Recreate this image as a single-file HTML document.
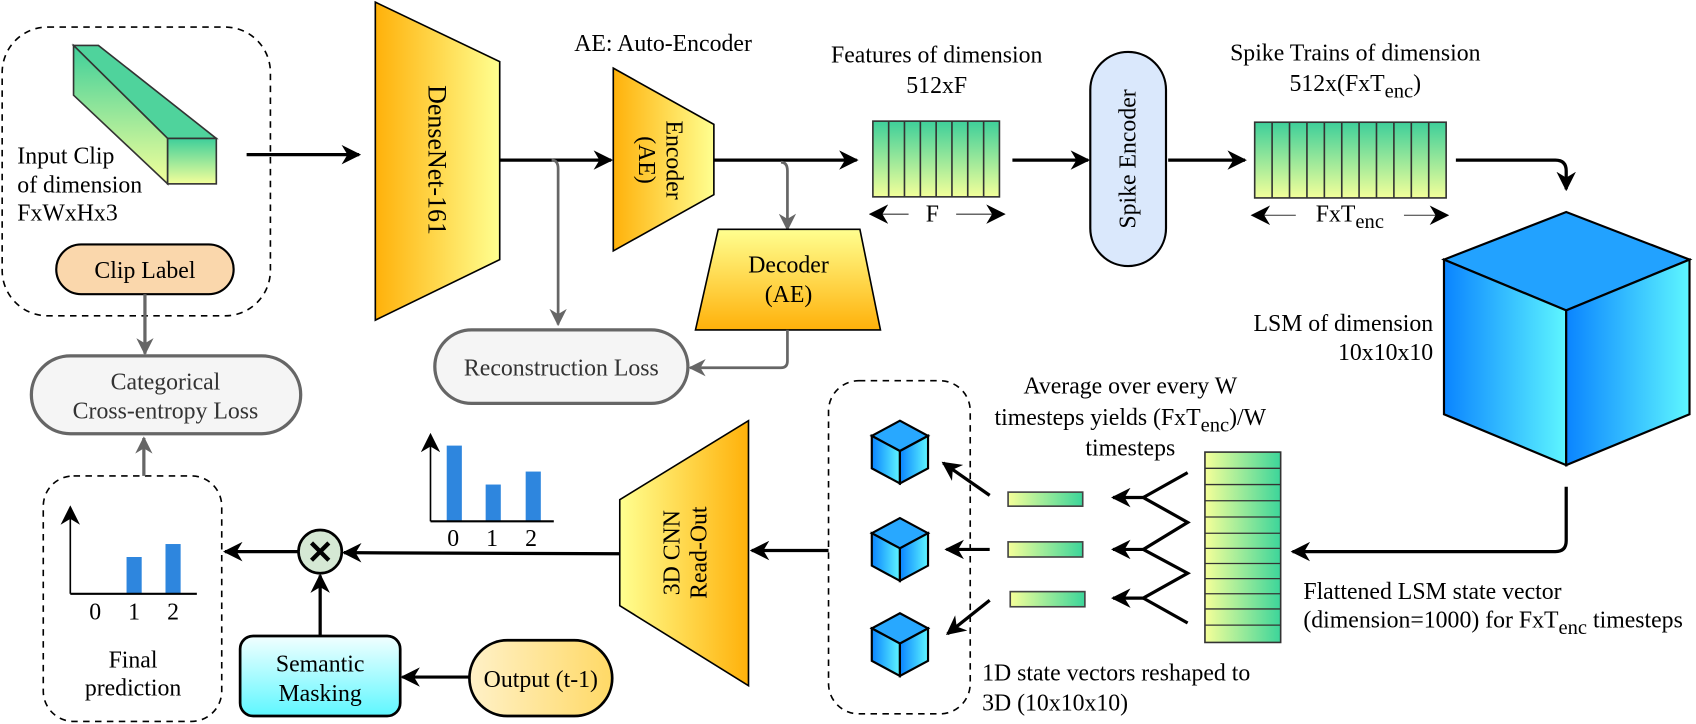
<!DOCTYPE html>
<html><head><meta charset="utf-8"><style>
html,body{margin:0;padding:0;background:#fff}
svg{display:block}
text{font-family:"Liberation Serif",serif;font-size:22px;fill:#000}
tspan.s{font-size:19px}
</style></head><body>
<svg width="1696" height="724" viewBox="0 0 1568 669.4" preserveAspectRatio="none" xmlns="http://www.w3.org/2000/svg">
<defs>
<marker id="a" viewBox="0 0 10 10" refX="9" refY="5" markerWidth="18" markerHeight="18" orient="auto" markerUnits="userSpaceOnUse"><path d="M0,0 L10,5 L0,10 L3,5 z" fill="#000"/></marker>
<marker id="g" viewBox="0 0 10 10" refX="9" refY="5" markerWidth="16" markerHeight="16" orient="auto" markerUnits="userSpaceOnUse"><path d="M0,0 L10,5 L0,10 L3,5 z" fill="#666"/></marker>
<linearGradient id="org" x1="0" x2="1" y1="0" y2="0"><stop offset="0" stop-color="#ffb10a"/><stop offset="1" stop-color="#ffff90"/></linearGradient>
<linearGradient id="orgR" x1="1" x2="0" y1="0" y2="0"><stop offset="0" stop-color="#ffb10a"/><stop offset="1" stop-color="#ffff90"/></linearGradient>
<linearGradient id="orgV" x1="0" x2="0" y1="0" y2="1"><stop offset="0" stop-color="#ffff90"/><stop offset="1" stop-color="#ffb10a"/></linearGradient>
<linearGradient id="gy" x1="0" x2="0" y1="0" y2="1"><stop offset="0" stop-color="#3ecf9a"/><stop offset="1" stop-color="#f3ff9a"/></linearGradient>
<linearGradient id="yg" x1="0" x2="1" y1="0" y2="0"><stop offset="0" stop-color="#f5ff99"/><stop offset="1" stop-color="#3cd59a"/></linearGradient>
<linearGradient id="blue" x1="0" x2="1" y1="0" y2="0"><stop offset="0" stop-color="#0a84ff"/><stop offset="1" stop-color="#5ef6ff"/></linearGradient>
<linearGradient id="cyan" x1="0" x2="0" y1="0" y2="1"><stop offset="0" stop-color="#f2ffff"/><stop offset="1" stop-color="#5ef7ff"/></linearGradient>
<linearGradient id="outp" x1="0" x2="1" y1="0" y2="0"><stop offset="0" stop-color="#fff1c8"/><stop offset="1" stop-color="#ffd966"/></linearGradient>
<g id="cube">
<path d="M0,-28 L26,-14 L0,0 L-26,-14 Z" fill="#28a8ff" stroke="#000" stroke-width="2"/>
<path d="M-26,-14 L0,0 L0,30 L-26,16 Z" fill="url(#blue)" stroke="#000" stroke-width="2"/>
<path d="M0,0 L26,-14 L26,16 L0,30 Z" fill="url(#blue)" stroke="#000" stroke-width="2"/>
</g>
</defs>

<rect x="2" y="25" width="248" height="267" rx="42" fill="none" stroke="#000" stroke-width="1.5" stroke-dasharray="6,5"/>
<path d="M68,42 L91,42 L200,128 L155,128 Z" fill="#4fd39c" stroke="#333" stroke-width="1.5"/>
<path d="M68,42 L155,128 L155,170 L68,88 Z" fill="url(#gy)" stroke="#333" stroke-width="1.5"/>
<rect x="155" y="128" width="45" height="42" fill="url(#gy)" stroke="#333" stroke-width="1.5"/>
<text x="16" y="151">Input Clip</text>
<text x="16" y="178">of dimension</text>
<text x="16" y="204">FxWxHx3</text>
<rect x="52" y="226" width="164" height="46" rx="23" fill="#fad7ac" stroke="#000" stroke-width="2"/>
<text x="134" y="257" text-anchor="middle">Clip Label</text>
<line x1="134" y1="272" x2="134" y2="327" stroke="#666" stroke-width="3" marker-end="url(#g)"/>
<rect x="29" y="329" width="249" height="72" rx="36" fill="#f5f5f5" stroke="#666" stroke-width="3"/>
<text x="153" y="360" text-anchor="middle" style="fill:#333">Categorical</text>
<text x="153" y="387" text-anchor="middle" style="fill:#333">Cross-entropy Loss</text>

<line x1="228" y1="143" x2="332" y2="143" stroke="#000" stroke-width="3" marker-end="url(#a)"/>

<path d="M347,2 L462,57 L462,240 L347,296 Z" fill="url(#org)" stroke="#000" stroke-width="1.5"/>
<text transform="translate(396,148) rotate(90)" text-anchor="middle" style="font-size:24px">DenseNet-161</text>
<line x1="462" y1="148" x2="565" y2="148" stroke="#000" stroke-width="3" marker-end="url(#a)"/>
<path d="M510,148 Q516,148 516,156 L516,300" fill="none" stroke="#666" stroke-width="2.5" marker-end="url(#g)"/>

<text x="613" y="47" text-anchor="middle">AE: Auto-Encoder</text>
<path d="M567,63 L660,115 L660,180 L567,232 Z" fill="url(#org)" stroke="#000" stroke-width="1.5"/>
<text transform="translate(616,148) rotate(90)" text-anchor="middle">Encoder</text>
<text transform="translate(591,148) rotate(90)" text-anchor="middle">(AE)</text>
<line x1="660" y1="148" x2="792" y2="148" stroke="#000" stroke-width="3" marker-end="url(#a)"/>
<path d="M722,150 Q728,150 728,158 L728,212" fill="none" stroke="#666" stroke-width="2.5" marker-end="url(#g)"/>

<path d="M664,212 L795,212 L814,305 L643,305 Z" fill="url(#orgV)" stroke="#000" stroke-width="1.5"/>
<text x="729" y="252" text-anchor="middle">Decoder</text>
<text x="729" y="279" text-anchor="middle">(AE)</text>

<rect x="402" y="305" width="234" height="68" rx="34" fill="#f5f5f5" stroke="#666" stroke-width="3"/>
<text x="519" y="347" text-anchor="middle" style="fill:#333">Reconstruction Loss</text>
<path d="M728,305 L728,334 Q728,340 722,340 L638,340" fill="none" stroke="#666" stroke-width="2.5" marker-end="url(#g)"/>

<text x="866" y="58" text-anchor="middle">Features of dimension</text>
<text x="866" y="86" text-anchor="middle">512xF</text>
<rect x="807" y="112" width="117" height="70" fill="url(#gy)" stroke="#333" stroke-width="1.5"/>
<g stroke="#333" stroke-width="1.5">
<line x1="821.6" y1="112" x2="821.6" y2="182"/><line x1="836.2" y1="112" x2="836.2" y2="182"/><line x1="850.9" y1="112" x2="850.9" y2="182"/><line x1="865.5" y1="112" x2="865.5" y2="182"/><line x1="880.1" y1="112" x2="880.1" y2="182"/><line x1="894.7" y1="112" x2="894.7" y2="182"/><line x1="909.4" y1="112" x2="909.4" y2="182"/>
</g>
<line x1="840" y1="198" x2="805" y2="198" stroke="#333" stroke-width="1" marker-end="url(#a)" />
<line x1="884" y1="198" x2="928" y2="198" stroke="#333" stroke-width="1" marker-end="url(#a)"/>
<text x="862" y="205" text-anchor="middle">F</text>
<line x1="936" y1="148" x2="1006" y2="148" stroke="#000" stroke-width="3" marker-end="url(#a)"/>

<rect x="1008" y="48" width="70" height="198" rx="35" fill="#dae8fc" stroke="#000" stroke-width="2"/>
<text transform="translate(1050,147) rotate(-90)" text-anchor="middle">Spike Encoder</text>
<line x1="1080" y1="148" x2="1151" y2="148" stroke="#000" stroke-width="3" marker-end="url(#a)"/>

<text x="1253" y="56" text-anchor="middle">Spike Trains of dimension</text>
<text x="1253" y="84" text-anchor="middle">512x(FxT<tspan class="s" dy="6">enc</tspan><tspan dy="-6">)</tspan></text>
<rect x="1160" y="113" width="177" height="70" fill="url(#gy)" stroke="#333" stroke-width="1.5"/>
<g stroke="#333" stroke-width="1.5">
<line x1="1176.1" y1="113" x2="1176.1" y2="183"/><line x1="1192.2" y1="113" x2="1192.2" y2="183"/><line x1="1208.3" y1="113" x2="1208.3" y2="183"/><line x1="1224.4" y1="113" x2="1224.4" y2="183"/><line x1="1240.5" y1="113" x2="1240.5" y2="183"/><line x1="1256.5" y1="113" x2="1256.5" y2="183"/><line x1="1272.6" y1="113" x2="1272.6" y2="183"/><line x1="1288.7" y1="113" x2="1288.7" y2="183"/><line x1="1304.8" y1="113" x2="1304.8" y2="183"/><line x1="1320.9" y1="113" x2="1320.9" y2="183"/>
</g>
<line x1="1198" y1="199" x2="1158" y2="199" stroke="#333" stroke-width="1" marker-end="url(#a)"/>
<line x1="1298" y1="199" x2="1338" y2="199" stroke="#333" stroke-width="1" marker-end="url(#a)"/>
<text x="1248" y="205" text-anchor="middle">FxT<tspan class="s" dy="6">enc</tspan></text>
<path d="M1346,148 L1438,148 Q1448,148 1448,158 L1448,175" fill="none" stroke="#000" stroke-width="3" marker-end="url(#a)"/>

<path d="M1335,240 L1448,196 L1562,240 L1448,287 Z" fill="#22a2ff" stroke="#000" stroke-width="2"/>
<path d="M1335,240 L1448,287 L1448,430 L1335,383 Z" fill="url(#blue)" stroke="#000" stroke-width="2"/>
<path d="M1448,287 L1562,240 L1562,383 L1448,430 Z" fill="url(#blue)" stroke="#000" stroke-width="2"/>
<text x="1325" y="306" text-anchor="end">LSM of dimension</text>
<text x="1325" y="333" text-anchor="end">10x10x10</text>
<path d="M1448,450 L1448,500 Q1448,510 1438,510 L1195,510" fill="none" stroke="#000" stroke-width="3" marker-end="url(#a)"/>

<text x="1205" y="554">Flattened LSM state vector</text>
<text x="1205" y="580">(dimension=1000) for FxT<tspan class="s" dy="6">enc</tspan><tspan dy="-6"> timesteps</tspan></text>

<rect x="1114" y="418" width="70" height="176" fill="url(#yg)" stroke="#333" stroke-width="1.5"/>
<g stroke="#333" stroke-width="1.2">
<line x1="1114" y1="433" x2="1184" y2="433"/><line x1="1114" y1="448" x2="1184" y2="448"/><line x1="1114" y1="463" x2="1184" y2="463"/><line x1="1114" y1="478" x2="1184" y2="478"/><line x1="1114" y1="493" x2="1184" y2="493"/><line x1="1114" y1="507" x2="1184" y2="507"/><line x1="1114" y1="521" x2="1184" y2="521"/><line x1="1114" y1="535" x2="1184" y2="535"/><line x1="1114" y1="549" x2="1184" y2="549"/><line x1="1114" y1="563" x2="1184" y2="563"/><line x1="1114" y1="578" x2="1184" y2="578"/>
</g>
<path d="M1098,437 L1057,460 L1098,483 L1057,508 L1098,530 L1057,553 L1098,576" fill="none" stroke="#000" stroke-width="3"/>
<line x1="1057" y1="460" x2="1029" y2="460" stroke="#000" stroke-width="3" marker-end="url(#a)"/>
<line x1="1057" y1="508" x2="1029" y2="508" stroke="#000" stroke-width="3" marker-end="url(#a)"/>
<line x1="1057" y1="553" x2="1029" y2="553" stroke="#000" stroke-width="3" marker-end="url(#a)"/>
<rect x="932" y="455" width="69" height="13" fill="url(#yg)" stroke="#444" stroke-width="1.5"/>
<rect x="932" y="501" width="69" height="14" fill="url(#yg)" stroke="#444" stroke-width="1.5"/>
<rect x="934" y="547" width="69" height="14" fill="url(#yg)" stroke="#444" stroke-width="1.5"/>
<text x="1045" y="364" text-anchor="middle">Average over every W</text>
<text x="1045" y="393" text-anchor="middle">timesteps yields (FxT<tspan class="s" dy="6">enc</tspan><tspan dy="-6">)/W</tspan></text>
<text x="1045" y="421" text-anchor="middle">timesteps</text>

<rect x="766" y="352" width="131" height="308" rx="28" fill="none" stroke="#000" stroke-width="1.5" stroke-dasharray="6,5"/>
<use href="#cube" x="832" y="417"/>
<use href="#cube" x="832" y="507"/>
<use href="#cube" x="832" y="595"/>
<line x1="915" y1="458" x2="872" y2="428" stroke="#000" stroke-width="3" marker-end="url(#a)"/>
<line x1="915" y1="508" x2="875" y2="508" stroke="#000" stroke-width="3" marker-end="url(#a)"/>
<line x1="915" y1="555" x2="876" y2="586" stroke="#000" stroke-width="3" marker-end="url(#a)"/>
<text x="908" y="629">1D state vectors reshaped to</text>
<text x="908" y="657">3D (10x10x10)</text>
<line x1="766" y1="509" x2="695" y2="509" stroke="#000" stroke-width="3" marker-end="url(#a)"/>

<path d="M573,462 L692,389 L692,634 L573,560 Z" fill="url(#orgR)" stroke="#000" stroke-width="1.5"/>
<text transform="translate(628,511) rotate(-90)" text-anchor="middle">3D CNN</text>
<text transform="translate(653,511) rotate(-90)" text-anchor="middle">Read-Out</text>

<rect x="413" y="412" width="14" height="70" fill="#2e86de"/>
<rect x="449" y="448" width="14" height="34" fill="#2e86de"/>
<rect x="486" y="436" width="14" height="46" fill="#2e86de"/>
<path d="M398,482 L512,482" stroke="#000" stroke-width="2"/>
<line x1="398" y1="482" x2="398" y2="402" stroke="#000" stroke-width="1.5" marker-end="url(#a)"/>
<text x="419" y="505" text-anchor="middle">0</text><text x="455" y="505" text-anchor="middle">1</text><text x="491" y="505" text-anchor="middle">2</text>

<line x1="573" y1="512" x2="318" y2="511" stroke="#000" stroke-width="3" marker-end="url(#a)"/>
<ellipse cx="296" cy="510" rx="20" ry="20" fill="#d5e8d4" stroke="#000" stroke-width="2.5"/>
<path d="M288,502 L304,518 M304,502 L288,518" stroke="#000" stroke-width="4"/>
<line x1="276" y1="510" x2="208" y2="510" stroke="#000" stroke-width="3" marker-end="url(#a)"/>

<rect x="222" y="588" width="148" height="74" rx="12" fill="url(#cyan)" stroke="#000" stroke-width="2.5"/>
<text x="296" y="621" text-anchor="middle">Semantic</text>
<text x="296" y="648" text-anchor="middle">Masking</text>
<line x1="296" y1="588" x2="296" y2="532" stroke="#000" stroke-width="3" marker-end="url(#a)"/>
<rect x="434" y="592" width="132" height="70" rx="35" fill="url(#outp)" stroke="#000" stroke-width="2.5"/>
<text x="500" y="635" text-anchor="middle">Output (t-1)</text>
<line x1="434" y1="626" x2="372" y2="626" stroke="#000" stroke-width="3" marker-end="url(#a)"/>

<rect x="40" y="440" width="165" height="227" rx="28" fill="none" stroke="#000" stroke-width="1.5" stroke-dasharray="6,5"/>
<rect x="117" y="515" width="14" height="34" fill="#2e86de"/>
<rect x="153" y="503" width="14" height="46" fill="#2e86de"/>
<path d="M65,549 L182,549" stroke="#000" stroke-width="2"/>
<line x1="65" y1="549" x2="65" y2="469" stroke="#000" stroke-width="1.5" marker-end="url(#a)"/>
<text x="88" y="573" text-anchor="middle">0</text><text x="124" y="573" text-anchor="middle">1</text><text x="160" y="573" text-anchor="middle">2</text>
<text x="123" y="617" text-anchor="middle">Final</text>
<text x="123" y="643" text-anchor="middle">prediction</text>
<line x1="133" y1="440" x2="133" y2="405" stroke="#666" stroke-width="3" marker-end="url(#g)"/>
</svg>
</body></html>
